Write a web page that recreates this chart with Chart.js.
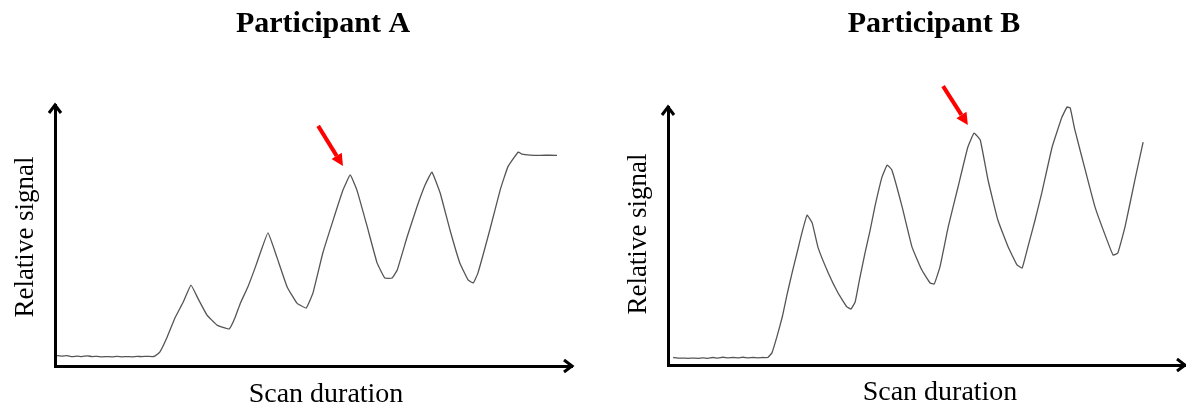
<!DOCTYPE html>
<html lang="en">
<head>
  <meta charset="UTF-8">
  <title>Relative signal over scan duration</title>
  <script src="https://cdn.jsdelivr.net/npm/chart.js"></script>
  <style>
    body {
      margin: 0;
      background: #fff;
    }
    .wrap {
      position: relative;
      width: 1186px;
      height: 408px;
    }
    .panel {
      position: absolute;
      top: 0;
      width: 593px;
      height: 408px;
    }
    #panelA { left: 0; }
    #panelB { left: 593px; }
  </style>
</head>
<body>
  <div class="wrap">
    <div class="panel" id="panelA"><canvas id="chartA"></canvas></div>
    <div class="panel" id="panelB"><canvas id="chartB"></canvas></div>
  </div>

  <script>
    // scan duration (0-100 % of axis) and relative signal (0-100 % of axis)
    const scanA = [0.4, 1.4, 2.3, 3.3, 4.3, 5.2, 6.2, 7.2, 8.1, 9.1, 10.1, 11.0, 12.0, 13.0, 13.9, 14.9, 15.9, 16.8, 17.8, 18.8, 19.3,
      20.3, 21.7, 23.2, 24.8, 26.3, 27.7, 29.4, 31.3, 32.3, 33.7, 34.8, 35.8, 37.3, 38.7, 39.7, 41.2, 42.9, 44.9, 46.8, 48.6,
      49.9, 51.8, 53.8, 55.7, 57.1, 58.4, 60.4, 62.3, 63.8, 65.2, 66.2, 68.1, 70.0, 71.6, 72.9, 74.5, 76.4, 78.3, 79.9, 80.9,
      81.8, 84.1, 86.1, 87.6, 89.6, 90.3, 91.9, 93.8, 95.7, 97.1];
    const signalA = [4.0, 3.8, 4.0, 3.6, 3.8, 3.6, 3.9, 3.6, 3.7, 3.5, 3.6, 3.5, 3.7, 3.5, 3.6, 3.5, 3.7, 3.6, 3.7, 3.6, 3.8,
      5.4, 11.1, 18.4, 24.5, 31.0, 25.7, 19.5, 15.7, 14.9, 14.2, 18.4, 23.8, 30.3, 37.6, 43.3, 51.0, 41.8, 30.3, 24.1, 22.2,
      28.0, 43.3, 55.9, 67.4, 73.2, 67.4, 53.3, 39.5, 33.7, 33.7, 36.8, 49.4, 60.9, 69.4, 74.3, 66.3, 52.1, 39.5, 33.0, 31.8,
      35.6, 52.1, 67.4, 76.3, 82.0, 81.2, 80.8, 80.7, 80.8, 80.7];

    const scanB = [1.0, 1.9, 2.9, 3.9, 4.8, 5.8, 6.8, 7.7, 8.7, 9.7, 10.6, 11.6, 12.6, 13.5, 14.5, 15.5, 16.4, 17.4, 18.4, 19.3,
      20.1, 21.1, 22.1, 23.0, 24.0, 25.0, 25.9, 26.9, 27.9, 29.0, 31.0, 32.9, 34.6, 35.4, 36.2, 37.1, 38.1, 39.1, 40.0, 41.4,
      42.4, 43.3, 45.3, 47.2, 49.1, 50.7, 51.5, 52.6, 54.2, 56.1, 58.0, 59.2, 60.4, 61.9, 63.8, 65.8, 67.5, 68.5, 69.6, 71.0,
      72.3, 74.3, 76.2, 77.2, 77.8, 78.7, 80.7, 82.6, 84.9, 86.1, 87.0, 88.4, 90.3, 91.9];
    const signalB = [2.9, 2.7, 2.7, 2.6, 2.7, 2.6, 2.8, 2.6, 2.9, 2.7, 3.0, 2.8, 2.9, 2.8, 3.0, 2.8, 2.9, 2.8, 2.9, 2.9,
      4.7, 11.2, 18.6, 27.1, 35.7, 43.8, 51.2, 58.1, 55.0, 45.7, 35.7, 27.9, 22.5, 21.7, 24.4, 33.7, 43.4, 52.3, 61.2, 72.9,
      77.5, 75.6, 61.2, 45.7, 36.8, 31.8, 31.4, 38.0, 53.5, 69.0, 84.5, 89.9, 87.2, 71.7, 56.2, 45.7, 38.8, 37.6, 45.7, 56.2,
      66.7, 84.5, 96.1, 100.0, 99.6, 91.1, 75.6, 61.2, 48.5, 42.6, 43.4, 53.5, 71.7, 86.4];

    // red arrows marking the third peak: [tail, tip] in axis units
    const markA = [[50.9, 92.0], [55.7, 76.6]];
    const markB = [[53.2, 108.1], [58.0, 93.0]];

    const FONT = '"Liberation Serif", "Times New Roman", serif';

    const decor = {
      id: 'decor',
      afterDraw(chart, args, opts) {
        const ctx = chart.ctx;
        const a = chart.chartArea;
        const sx = chart.scales.x;
        const sy = chart.scales.y;
        ctx.save();

        // arrow heads on the axes
        ctx.strokeStyle = '#000';
        ctx.lineWidth = 3;
        ctx.lineJoin = 'miter';
        ctx.beginPath();
        ctx.moveTo(a.right - 8, a.bottom - 6);
        ctx.lineTo(a.right, a.bottom);
        ctx.lineTo(a.right - 8, a.bottom + 6);
        ctx.moveTo(a.left - 6, a.top + 8);
        ctx.lineTo(a.left, a.top);
        ctx.lineTo(a.left + 6, a.top + 8);
        ctx.stroke();

        // red pointer
        const x0 = sx.getPixelForValue(opts.mark[0][0]);
        const y0 = sy.getPixelForValue(opts.mark[0][1]);
        const x1 = sx.getPixelForValue(opts.mark[1][0]);
        const y1 = sy.getPixelForValue(opts.mark[1][1]);
        const ang = Math.atan2(y1 - y0, x1 - x0);
        const head = 12;
        ctx.strokeStyle = '#f00';
        ctx.fillStyle = '#f00';
        ctx.lineWidth = 4;
        ctx.lineCap = 'butt';
        ctx.beginPath();
        ctx.moveTo(x0, y0);
        ctx.lineTo(x1 - head * Math.cos(ang), y1 - head * Math.sin(ang));
        ctx.stroke();
        ctx.beginPath();
        ctx.moveTo(x1, y1);
        ctx.lineTo(x1 - head * Math.cos(ang) + 6 * Math.sin(ang), y1 - head * Math.sin(ang) - 6 * Math.cos(ang));
        ctx.lineTo(x1 - head * Math.cos(ang) - 6 * Math.sin(ang), y1 - head * Math.sin(ang) + 6 * Math.cos(ang));
        ctx.closePath();
        ctx.fill();

        // texts
        ctx.fillStyle = '#000';
        ctx.textAlign = 'center';
        ctx.textBaseline = 'alphabetic';
        ctx.font = 'bold 30px ' + FONT;
        ctx.fillText(opts.title, opts.titleX, 32);
        ctx.font = '28px ' + FONT;
        ctx.fillText('Scan duration', opts.xLabel[0], opts.xLabel[1]);
        ctx.translate(opts.yLabel[0], opts.yLabel[1]);
        ctx.rotate(-Math.PI / 2);
        ctx.font = '27px ' + FONT;
        ctx.fillText('Relative signal', 0, 0);
        ctx.restore();
      }
    };

    function makeChart(id, scan, signal, pad, decorOpts) {
      const points = scan.map((v, i) => ({ x: v, y: signal[i] }));
      const axis = {
        type: 'linear',
        min: 0,
        max: 100,
        display: true,
        ticks: { display: false },
        grid: { display: false, drawTicks: false },
        border: { display: true, color: '#000', width: 3 }
      };
      return new Chart(document.getElementById(id), {
        type: 'line',
        data: {
          datasets: [{
            data: points,
            borderColor: '#555',
            borderWidth: 1.3,
            pointRadius: 0,
            tension: 0.1,
            clip: false
          }]
        },
        options: {
          responsive: true,
          maintainAspectRatio: false,
          animation: false,
          layout: { padding: pad },
          scales: { x: axis, y: axis },
          plugins: {
            legend: { display: false },
            tooltip: { enabled: false },
            decor: decorOpts
          }
        },
        plugins: [decor]
      });
    }

    makeChart('chartA', scanA, signalA,
      { left: 55, right: 21, top: 105, bottom: 42 },
      { title: 'Participant A', titleX: 323, xLabel: [326, 402], yLabel: [33, 237], mark: markA });

    makeChart('chartB', scanB, signalB,
      { left: 75, right: 1, top: 107, bottom: 43 },
      { title: 'Participant B', titleX: 341, xLabel: [347, 400], yLabel: [53, 234], mark: markB });
  </script>
</body>
</html>
